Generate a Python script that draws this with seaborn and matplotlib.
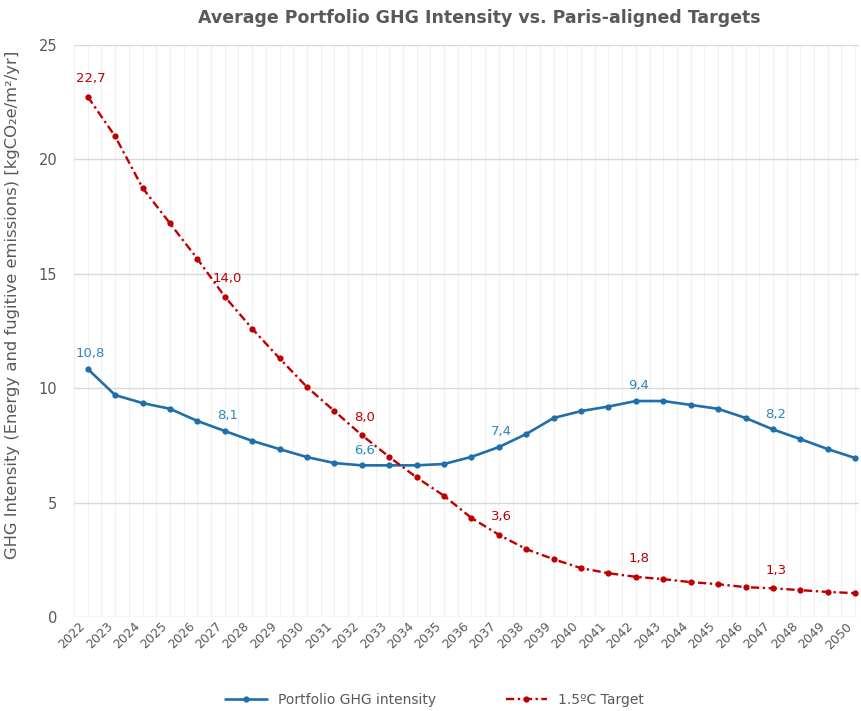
import numpy as np
import pandas as pd
import matplotlib
matplotlib.use("Agg")
import matplotlib.pyplot as plt
import seaborn as sns

years = list(range(2022, 2051))
portfolio = [10.84, 9.7, 9.35, 9.1, 8.57, 8.13, 7.7, 7.34, 6.99, 6.73, 6.63, 6.63, 6.63, 6.69,
             7.0, 7.43, 8.0, 8.7, 9.0, 9.2, 9.44, 9.44, 9.27, 9.1, 8.7, 8.2, 7.78, 7.34, 6.95]
target = [22.73, 21.0, 18.75, 17.2, 15.65, 14.0, 12.6, 11.3, 10.05, 9.0, 7.95, 7.0, 6.1, 5.3,
          4.33, 3.6, 2.97, 2.53, 2.14, 1.92, 1.76, 1.66, 1.53, 1.44, 1.31, 1.26, 1.18, 1.1, 1.05]
label_years = [2022, 2027, 2032, 2037, 2042, 2047]

blue = "#1F6FAA"
blue_lbl = "#2E86C1"
red = "#C00000"
grey = "#595959"

df = pd.DataFrame({"year": years, "Portfolio GHG intensity": portfolio, "1.5ºC Target": target})

sns.set_style("whitegrid")
plt.rcParams["font.family"] = ["DejaVu Sans"]

fig = plt.figure(figsize=(8.61, 7.11), dpi=100)
ax = fig.add_axes([0.086, 0.132, 0.912, 0.805])

sns.lineplot(data=df, x="year", y="Portfolio GHG intensity", ax=ax, color=blue, lw=1.9,
             marker="o", markersize=4.5, markeredgewidth=0, label="Portfolio GHG intensity")
sns.lineplot(data=df, x="year", y="1.5ºC Target", ax=ax, color=red, lw=1.7,
             linestyle=(0, (3.5, 1.5, 1, 1.5)), marker="o", markersize=4.5, markeredgewidth=0,
             label="1.5ºC Target")

def fmt(v):
    return f"{v:.1f}".replace(".", ",")

for y_, p, t in zip(years, portfolio, target):
    if y_ in label_years:
        ax.annotate(fmt(p), (y_, p), xytext=(2, 11), textcoords="offset points",
                    ha="center", va="center", color=blue_lbl, fontsize=9.5)
        ax.annotate(fmt(t), (y_, t), xytext=(2, 13), textcoords="offset points",
                    ha="center", va="center", color=red, fontsize=9.5)

ax.set_xlim(2021.5, 2050.15)
ax.set_ylim(0, 25)
ax.set_yticks([0, 5, 10, 15, 20, 25])
ax.set_xticks(years)
ax.set_xticks(np.arange(2021.5, 2050.5, 1.0), minor=True)
ax.set_xticklabels([str(y) for y in years], rotation=45, ha="right",
                   fontsize=9, color=grey)
ax.tick_params(axis="y", labelsize=10.5, labelcolor=grey, pad=12)
ax.tick_params(axis="x", pad=2)
ax.tick_params(which="both", length=0)
ax.grid(axis="y", color="#d9d9d9", lw=1)
ax.grid(axis="x", which="both", color="#f0f0f0", lw=0.8)
for s in ax.spines.values():
    s.set_visible(False)

ax.set_xlabel("")
ax.set_ylabel("GHG Intensity (Energy and fugitive emissions) [kgCO\u2082e/m\u00b2/yr]",
              fontsize=11.8, color=grey)
ax.yaxis.set_label_coords(-0.069, 0.545)
fig.suptitle("Average Portfolio GHG Intensity vs. Paris-aligned Targets", x=0.557, y=0.987,
             fontsize=12.5, fontweight="bold", color=grey)

ax.get_legend().remove()
h, l = ax.get_legend_handles_labels()
fig.legend(h, l, loc="center", bbox_to_anchor=(0.505, 0.015), ncol=2, frameon=False,
           fontsize=10, labelcolor=grey, handlelength=3, columnspacing=5)

fig.savefig("out.png", dpi=100)
